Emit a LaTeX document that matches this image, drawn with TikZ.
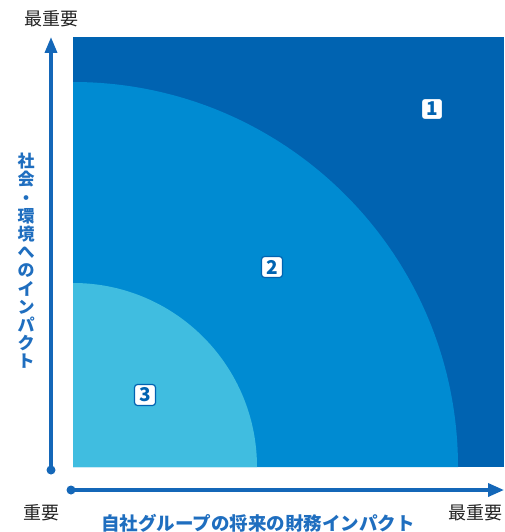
\documentclass[tikz,border=0pt]{standalone}
\usepackage{fontspec}
\newfontfamily\jp{Noto Sans CJK JP}
\usetikzlibrary{arrows.meta}
\definecolor{cdark}{HTML}{0063B1}
\definecolor{cmid}{HTML}{008BD2}
\definecolor{clight}{HTML}{40BDE0}
\definecolor{caxis}{HTML}{1467B8}
\definecolor{clabel}{HTML}{1F6EBF}
\definecolor{ctext}{HTML}{222222}
\tikzset{
  axisline/.style={draw=caxis, line width=3.5pt},
  axisdot/.style={circle, fill=caxis, inner sep=0pt, minimum size=9pt},
  badge/.style={draw=cdark, fill=white, line width=1.2pt, rounded corners=3pt,
    minimum width=21pt, minimum height=21pt, inner sep=0pt,
    font=\jp\bfseries\fontsize{19}{19}\selectfont, text=cdark},
  ticklabel/.style={font=\jp\fontsize{18}{18}\selectfont, text=ctext, inner sep=0pt},
  axistitle/.style={font=\jp\bfseries\fontsize{18.5}{18.5}\selectfont, text=clabel, inner sep=0pt}
}
\begin{document}
\begin{tikzpicture}[x=1pt,y=-1pt]
\useasboundingbox (0,0) rectangle (504,532);
% regions
\fill[cdark] (73,37) rectangle (504,467);
\fill[cmid] (73,467) -- (73,82) arc[start angle=-90, end angle=0, radius=385] -- cycle;
\fill[clight] (73,467) -- (73,283) arc[start angle=-90, end angle=0, radius=184] -- cycle;
% badges
\node[badge] (b1) at (432,109) {1};
\node[badge] (b2) at (272,267) {2};
\node[badge] (b3) at (145,395) {3};
% axes
\node[axisdot] (vd) at (51,470) {};
\coordinate (vt) at (51,37);
\draw[axisline, -{Triangle[width=12pt,length=16pt]}] (vd.center) -- (vt);
\node[axisdot] (hd) at (71,490) {};
\coordinate (ht) at (504,490);
\draw[axisline, -{Triangle[width=13pt,length=16pt]}] (hd.center) -- (ht);
% labels
\node[ticklabel] (ytop) at (51,19) {最重要};
\node[ticklabel] (xlow) at (41,513) {重要};
\node[ticklabel] (xtop) at (475,513) {最重要};
\node[axistitle] (xtitle) at (258,523) {自社グループの将来の財務インパクト};
\node[axistitle, align=center, font=\jp\bfseries\fontsize{17}{18.2}\selectfont] (ytitle) at (26,261)
  {社\\会\\・\\環\\境\\へ\\の\\イ\\ン\\パ\\ク\\ト};
\end{tikzpicture}
\end{document}
